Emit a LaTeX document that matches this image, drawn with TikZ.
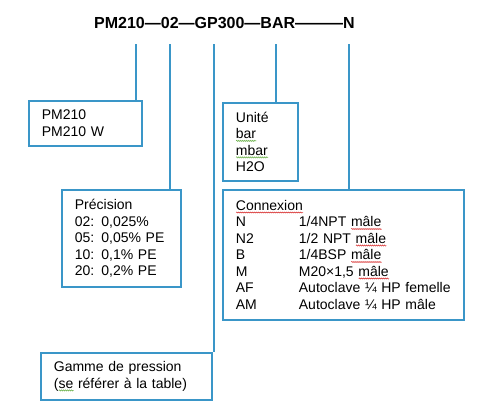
\documentclass[tikz,border=0pt]{standalone}
\usepackage{fontspec}
\setmainfont{Liberation Sans}
\usetikzlibrary{decorations.pathmorphing}
\definecolor{boxblue}{RGB}{58,150,200}
\definecolor{spellred}{RGB}{215,45,45}
\definecolor{spellgreen}{RGB}{95,170,60}
\newsavebox\wavybox
\newcommand\wavy[2]{\leavevmode\sbox\wavybox{#2}\rlap{\raisebox{-3pt}[0pt][0pt]{\tikz\draw[#1,line width=0.5pt,decorate,decoration={snake,amplitude=0.6pt,segment length=2pt}] (0pt,0pt) -- (\wd\wavybox,0pt);}}\usebox\wavybox}
\newcommand\cx[2]{\makebox[63pt][l]{#1}#2}
\tikzset{
  codebox/.style={draw=boxblue,line width=1.8pt,anchor=north west,inner xsep=13pt,inner ysep=0pt,
    align=left,font=\fontsize{14}{16.5}\selectfont},
  lead/.style={draw=boxblue,line width=1.8pt}
}
\begin{document}
\begin{tikzpicture}[x=1pt,y=-1pt]
            \useasboundingbox (0,0) rectangle (500,410);
            \node[anchor=base west,inner sep=0pt,font=\fontsize{16}{19}\selectfont\bfseries] (code) at (94,28.3) {PM210—02—GP300—BAR———N};
            % points under the code
            \coordinate (t1) at (136,44);
            \coordinate (t2) at (170,44);
            \coordinate (t3) at (214,44);
            \coordinate (t4) at (276,44);
            \coordinate (t5) at (349,44);
            \node[codebox,text width=87pt,minimum height=45pt] (serie) at (28,100) {PM210\\PM210 W};
            \node[codebox,text width=93pt,minimum height=97pt] (precision) at (61,189) {Précision\\02: 0,025\%\\05: 0,05\% PE\\10: 0,1\% PE\\20: 0,2\% PE};
            \node[codebox,text width=145pt,minimum height=47pt] (gamme) at (40,352) {Gamme de pression\\(\wavy{spellgreen}{se} référer à la table)};
            \node[codebox,text width=49pt,minimum height=78pt] (unite) at (222,102) {Unité\\\wavy{spellgreen}{bar}\\\wavy{spellgreen}{mbar}\\H2O};
            \node[codebox,text width=215pt,minimum height=130pt] (connexion) at (222,189) {\wavy{spellred}{Connexion}\\
              \cx{N}{1/4NPT \wavy{spellred}{mâle}}\\
              \cx{N2}{1/2 NPT \wavy{spellred}{mâle}}\\
              \cx{B}{1/4BSP \wavy{spellred}{mâle}}\\
              \cx{M}{M20×1,5 \wavy{spellred}{mâle}}\\
              \cx{AF}{Autoclave ¼ HP femelle}\\
              \cx{AM}{Autoclave ¼ HP mâle}};
            \draw[lead] (t1) -- (t1 |- serie.north);
            \draw[lead] (t2) -- (t2 |- precision.north);
            \draw[lead] (t3) -- (t3 |- gamme.north);
            \draw[lead] (t4) -- (t4 |- unite.north);
            \draw[lead] (t5) -- (t5 |- connexion.north);
        \end{tikzpicture}
\end{document}
